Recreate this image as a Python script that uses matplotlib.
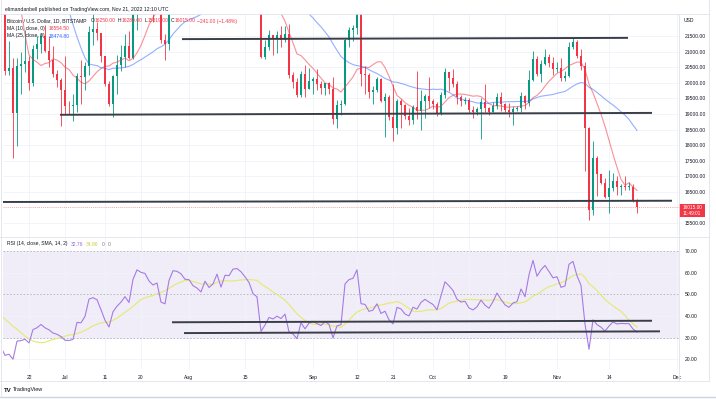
import numpy as np
import pandas as pd
import matplotlib

matplotlib.use("Agg")

import matplotlib.dates as mdates  # noqa: E402
from matplotlib import pyplot as plt  # noqa: E402
from matplotlib.lines import Line2D  # noqa: E402
from matplotlib.patches import Rectangle  # noqa: E402

# BTC/USD daily candles, Bitstamp, 2022-06-14 .. 2022-11-21
dates = pd.date_range("2022-06-14", "2022-11-21", freq="D")

opens = [
    22487, 22140, 22572, 20381, 20471, 19018, 20553, 20599, 20710, 19987, 21085, 21232, 21502, 21027, 20735, 20280, 20104,
    19785, 19269, 19242, 19297, 20231, 20190, 20548, 21637, 21731, 21592, 20860, 19970, 19323, 20212, 20569, 20836,
    21190, 20779, 22485, 23389, 23231, 23164, 22714, 22465, 22609, 21361, 21239, 22930, 23843, 23804, 23656,
    23336, 23314, 22978, 22846, 22630, 23289, 22961, 23175, 23810, 23149, 23954, 23935, 24403, 24441, 24305, 24094,
    23854, 23342, 23191, 20834, 21140, 21516, 21400, 21529, 21368, 21559, 20241, 20041, 19616, 20297, 19796,
    20050, 20127, 19969, 19832, 19986, 19812, 18837, 19290, 19329, 21381, 21680, 21769, 22370, 20296, 20241,
    19701, 19772, 20127, 19419, 19544, 18890, 18547, 19413, 19297, 18937, 18802, 19222, 19110, 19426, 19573,
    19431, 19312, 19044, 19623, 20336, 20160, 19955, 19546, 19416, 19446, 19141, 19051, 19157, 19382, 19185, 19067,
    19268, 19550, 19334, 19139, 19053, 19172, 19208, 19567, 19345, 20095, 20771, 20285, 20595, 20818, 20635,
    20440, 20485, 20159, 20209, 21148, 21300, 20860, 20535, 18547, 15922, 17601, 17071, 16780, 16330, 16619,
    16850, 16662, 16692, 16670, 16671, 16250,
]
highs = [
    22800, 22800, 22980, 21340, 20780, 20780, 21000, 21700, 20870, 21200, 21500, 21600, 21860, 21500, 21180, 20400, 20160,
    20870, 19420, 19640, 20330, 20740, 20660, 21830, 22500, 21950, 21600, 20870, 20060, 20250, 20880, 21200, 21550,
    21650, 22720, 23770, 24280, 23430, 23750, 22980, 23000, 22650, 21560, 23100, 24180, 24400, 24620, 24200,
    23480, 23440, 23660, 23220, 23440, 23340, 23390, 24230, 23920, 24200, 24900, 24440, 24880, 25050, 25200, 24230,
    24440, 23590, 23200, 21370, 21680, 21520, 21650, 21820, 21810, 21870, 20340, 20150, 20390, 20560, 20480,
    20200, 20440, 20050, 20000, 20040, 20170, 19450, 19450, 21450, 21800, 21850, 22480, 22790, 20550, 20330,
    19890, 20180, 20150, 19680, 19620, 19950, 19490, 19480, 19320, 19180, 19300, 20370, 19770, 19640, 20180,
    19480, 19400, 19700, 20460, 20360, 20450, 20060, 19620, 19560, 19520, 19270, 19210, 19500, 19950, 19220, 19400,
    19670, 19700, 19350, 19340, 19250, 19250, 19700, 19600, 20400, 21020, 20870, 20740, 21080, 20920, 20840,
    20680, 20800, 20390, 21300, 21480, 21360, 21070, 20670, 18590, 18150, 17660, 17080, 16950, 17190, 17120,
    17000, 16760, 17000, 16820, 16750, 16289,
]
lows = [
    21000, 20080, 20250, 20250, 17600, 17960, 19640, 20350, 19770, 19900, 20760, 20950, 20980, 20500, 20200, 19850, 18630,
    18990, 18990, 18760, 19050, 19310, 19770, 20260, 21200, 21360, 20660, 19900, 19250, 18910, 19630, 20390, 20500,
    20770, 20770, 21700, 23000, 22350, 22500, 21950, 22270, 21260, 20720, 21050, 22600, 23450, 23500, 23230,
    22870, 22660, 22700, 22430, 22600, 22940, 22850, 23150, 22890, 22670, 23880, 23600, 24300, 24150, 23800, 23700,
    23200, 23100, 20800, 20760, 21050, 20890, 20940, 21160, 21320, 20140, 19820, 19560, 19560, 19550, 19790,
    19650, 19760, 19650, 19600, 19640, 18690, 18540, 18960, 19300, 21150, 21350, 21550, 19890, 19640, 19520,
    19330, 19700, 19380, 18270, 18800, 18150, 18370, 18550, 18850, 18650, 18680, 18840, 18500, 18860, 19190,
    19170, 18950, 18960, 19510, 19730, 19860, 19330, 19260, 19320, 19030, 18870, 18980, 18190, 19070, 18980, 19060,
    19160, 19100, 19080, 18900, 18650, 19110, 19080, 19160, 19250, 20060, 20210, 20010, 20560, 20500, 20240,
    20350, 20050, 20050, 20180, 21080, 20780, 20400, 17170, 15590, 15760, 16370, 16750, 16320, 15820, 16540,
    16420, 16420, 16560, 16560, 16180, 15819,
]
closes = [
    22140, 22572, 20381, 20471, 19018, 20553, 20599, 20710, 19987, 21085, 21232, 21502, 21027, 20735, 20280, 20104, 19785,
    19269, 19242, 19297, 20231, 20190, 20548, 21637, 21731, 21592, 20860, 19970, 19323, 20212, 20569, 20836, 21190,
    20779, 22485, 23389, 23231, 23164, 22714, 22465, 22609, 21361, 21239, 22930, 23843, 23804, 23656, 23336,
    23314, 22978, 22846, 22630, 23289, 22961, 23175, 23810, 23149, 23954, 23935, 24403, 24441, 24305, 24094, 23854,
    23342, 23191, 20834, 21140, 21516, 21400, 21529, 21368, 21559, 20241, 20041, 19616, 20297, 19796, 20050,
    20127, 19969, 19832, 19986, 19812, 18837, 19290, 19329, 21381, 21680, 21769, 22370, 20296, 20241, 19701,
    19772, 20127, 19419, 19544, 18890, 18547, 19413, 19297, 18937, 18802, 19222, 19110, 19426, 19573, 19431,
    19312, 19044, 19623, 20336, 20160, 19955, 19546, 19416, 19446, 19141, 19051, 19157, 19382, 19185, 19067, 19268,
    19550, 19334, 19139, 19053, 19172, 19208, 19567, 19345, 20095, 20771, 20285, 20595, 20818, 20635, 20440,
    20485, 20159, 20209, 21148, 21300, 20860, 20535, 18547, 15922, 17601, 17071, 16780, 16330, 16619, 16850,
    16662, 16692, 16670, 16671, 16256, 16015,
]
# closes of 2022-05-01 .. 2022-06-13, only used as lookback for the MA / RSI studies
closes_before = [
    38470, 38525, 37750, 39690, 36550, 36010, 35470, 34060, 30090, 31010, 28940, 29050, 29280, 30080, 31330, 29860,
    30430, 28700, 30300, 29200, 29430, 30290, 29100, 29650, 29540, 29200, 28620, 29030, 29470, 31730, 31800,
    29800, 30450, 29700, 29860, 29900, 31370, 31130, 30200, 30100, 29090, 28420, 26570, 22490,
]

tick_dates = ["2022-06-22", "2022-07-01", "2022-07-11", "2022-07-20", "2022-08-01", "2022-08-15", "2022-09-01",
              "2022-09-12", "2022-09-21", "2022-10-01", "2022-10-10", "2022-10-19", "2022-11-01", "2022-11-14",
              "2022-12-01"]
tick_labels = ["22", "Jul", "11", "20", "Aug", "15", "Sep", "12", "21", "Oct", "10", "19", "Nov", "14", "Dec"]
price_ticks = [15500, 16500, 17000, 17500, 18000, 18500, 19000, 19500, 20000, 20500, 21000, 21500]
rsi_ticks = [20, 30, 40, 50, 60, 70]

# hand drawn lines of the author: (start date, value) -> (end date, value)
price_lines = [
    (("2022-07-30 06:00", 21400), ("2022-11-18 18:00", 21440)),
    (("2022-06-29 18:00", 18975), ("2022-11-24 18:00", 19035)),
    (("2022-06-14 18:00", 16180), ("2022-11-29 18:00", 16220)),
]
rsi_lines = [
    (("2022-07-27 18:00", 37.1), ("2022-11-24 18:00", 37.8)),
    (("2022-07-30 18:00", 32.1), ("2022-11-26 18:00", 32.9)),
]

GREEN = "#089981"
RED = "#F23645"
TXT = "#131722"

plt.rcParams["font.family"] = ["Liberation Sans", "DejaVu Sans"]

W, H = 716, 399
fig = plt.figure(figsize=(W / 100, H / 100), dpi=100)
fig.patch.set_facecolor("white")


def rect(x0, y0, x1, y1):
    return [x0 / W, 1 - y1 / H, (x1 - x0) / W, (y1 - y0) / H]


def ftext(x, y, s, **kw):
    kw.setdefault("fontsize", 3.6)
    kw.setdefault("color", TXT)
    kw.setdefault("va", "center")
    return fig.text(x / W, 1 - y / H, s, **kw)


def fline(x0, y0, x1, y1, color="#e0e3eb", lw=0.6):
    fig.add_artist(Line2D([x0 / W, x1 / W], [1 - y0 / H, 1 - y1 / H], color=color, lw=lw,
                          transform=fig.transFigure))


ax_p = fig.add_axes(rect(3, 14, 679, 236))
ax_r = fig.add_axes(rect(3, 237, 679, 369), sharex=ax_p)

x = mdates.date2num(dates)
o = np.array(opens, float)
h = np.array(highs, float)
lo = np.array(lows, float)
c = np.array(closes, float)
col = np.where(c >= o, GREEN, RED)

ax_p.vlines(x, lo, h, colors=col, lw=0.6, zorder=3)
ax_p.bar(x, np.maximum(np.abs(c - o), 15), bottom=np.minimum(o, c), width=0.72, color=col, lw=0, zorder=4)

allc = pd.Series(closes_before + closes, dtype=float)
n0 = len(closes_before)
ma10 = allc.rolling(10).mean().to_numpy()[n0:]
ma25 = allc.rolling(25).mean().to_numpy()[n0:]
ax_p.plot(x, ma10, color=RED, lw=0.8, alpha=0.55, zorder=5)
ax_p.plot(x, ma25, color="#2962FF", lw=0.8, alpha=0.5, zorder=5)

for (d0, v0), (d1, v1) in price_lines:
    ax_p.plot(mdates.date2num(pd.to_datetime([d0, d1])), [v0, v1], color="#3a3e48", lw=1.4,
              solid_capstyle="butt", zorder=6)

ax_p.axhline(closes[-1], color=RED, lw=0.5, ls=(0, (1.5, 1.5)), alpha=0.6, zorder=2)

ax_p.set_xlim(mdates.date2num(pd.Timestamp("2022-06-15 12:00")), mdates.date2num(pd.Timestamp("2022-12-01 12:00")))
ax_p.set_ylim(15090, 22205)
ax_p.yaxis.tick_right()
ax_p.set_yticks(price_ticks)
ax_p.set_yticklabels([f"{v:.2f}" for v in price_ticks])
ax_p.set_xticks(mdates.date2num(pd.to_datetime(tick_dates)))
ax_p.tick_params(axis="both", length=0, labelsize=3.6, colors=TXT, pad=4)
ax_p.tick_params(axis="x", labelbottom=False)
ax_p.grid(color="#f0f3fa", lw=0.6)

# RSI (14) with its 14 SMA
delta = allc.diff()
gain = delta.clip(lower=0).ewm(alpha=1 / 14, adjust=False).mean()
loss = (-delta.clip(upper=0)).ewm(alpha=1 / 14, adjust=False).mean()
rsi = 100 - 100 / (1 + gain / loss)
rsi_ma = rsi.rolling(14).mean()

ax_r.axhspan(30, 70, color="#7E57C2", alpha=0.1, lw=0)
for lvl in (30, 50, 70):
    ax_r.axhline(lvl, color="#b2b5be", lw=0.6, ls=(0, (2, 2)))
ax_r.plot(x, rsi_ma.to_numpy()[n0:], color="#e3ea6e", lw=0.8, zorder=4)
ax_r.plot(x, rsi.to_numpy()[n0:], color="#a57be3", lw=0.8, zorder=5)
for (d0, v0), (d1, v1) in rsi_lines:
    ax_r.plot(mdates.date2num(pd.to_datetime([d0, d1])), [v0, v1], color="#3a3e48", lw=1.4,
              solid_capstyle="butt", zorder=6)

ax_r.set_ylim(15.5, 76.5)
ax_r.yaxis.tick_right()
ax_r.set_yticks(rsi_ticks)
ax_r.set_yticklabels([f"{v:.2f}" for v in rsi_ticks])
ax_r.set_xticks(mdates.date2num(pd.to_datetime(tick_dates)))
ax_r.set_xticklabels(tick_labels)
ax_r.tick_params(axis="both", length=0, labelsize=3.6, colors=TXT, pad=4)
ax_r.tick_params(axis="x", pad=4)
ax_r.grid(color="#f0f3fa", lw=0.6)

for ax in (ax_p, ax_r):
    ax.set_facecolor("white")
    for s in ax.spines.values():
        s.set_visible(False)

# frame lines
fline(0, 14, 709, 14)
fline(0, 236.5, 709, 236.5)
fline(679, 14, 679, 381)
fline(709, 0, 709, 381)
fline(0, 381, 709, 381)
fline(0, 397, 716, 397, color="#cdd5e2", lw=1.0)
fline(0.5, 0, 0.5, 397, color="#e0e3eb")

# current price tag
fig.add_artist(Rectangle((679 / W, 1 - 217 / H), 26 / W, 13 / H, transform=fig.transFigure,
                         color=RED, lw=0))
ftext(692, 207.5, "16015.00", color="white", ha="center", fontsize=3.4)
ftext(692, 213.5, "11:49:01", color="white", ha="center", fontsize=3.4)
ftext(684, 21, "USD", fontsize=3.6)

# legend texts
renderer = fig.canvas.get_renderer()


def text_run(x0, y, pieces, size=3.6):
    xp = x0
    for s, color, gap in pieces:
        t = ftext(xp, y, s, color=color, fontsize=size)
        xp += t.get_window_extent(renderer).width + gap


ftext(5, 9, "elimandanbell published on TradingView.com, Nov 21, 2022 12:10 UTC", fontsize=3.7)
text_run(7, 21, [("Bitcoin / U.S. Dollar, 1D, BITSTAMP", TXT, 4),
                 ("O", TXT, 0.3), ("16250.00", RED, 2), ("H", TXT, 0.3), ("16289.00", RED, 2),
                 ("L", TXT, 0.3), ("15819.00", RED, 2), ("C", TXT, 0.3), ("16015.00", RED, 2),
                 ("\u2212241.00 (\u22121.48%)", RED, 0)])
text_run(7, 28.5, [("MA (10, close, 0)", TXT, 4), ("16554.50", RED, 0)])
text_run(7, 36, [("MA (25, close, 0)", TXT, 4), ("18474.80", "#2962FF", 0)])
text_run(7, 244, [("RSI (14, close, SMA, 14, 2)", TXT, 3), ("32.76", "#9c6ade", 3),
                  ("34.86", "#c9cf3c", 3), ("0", "#787b86", 3), ("0", "#787b86", 0)])

ftext(4, 390, "TV", fontsize=4.4, fontweight="bold")
ftext(13, 390, "TradingView", fontsize=4.0)

fig.savefig("out.png", dpi=100, facecolor="white")
